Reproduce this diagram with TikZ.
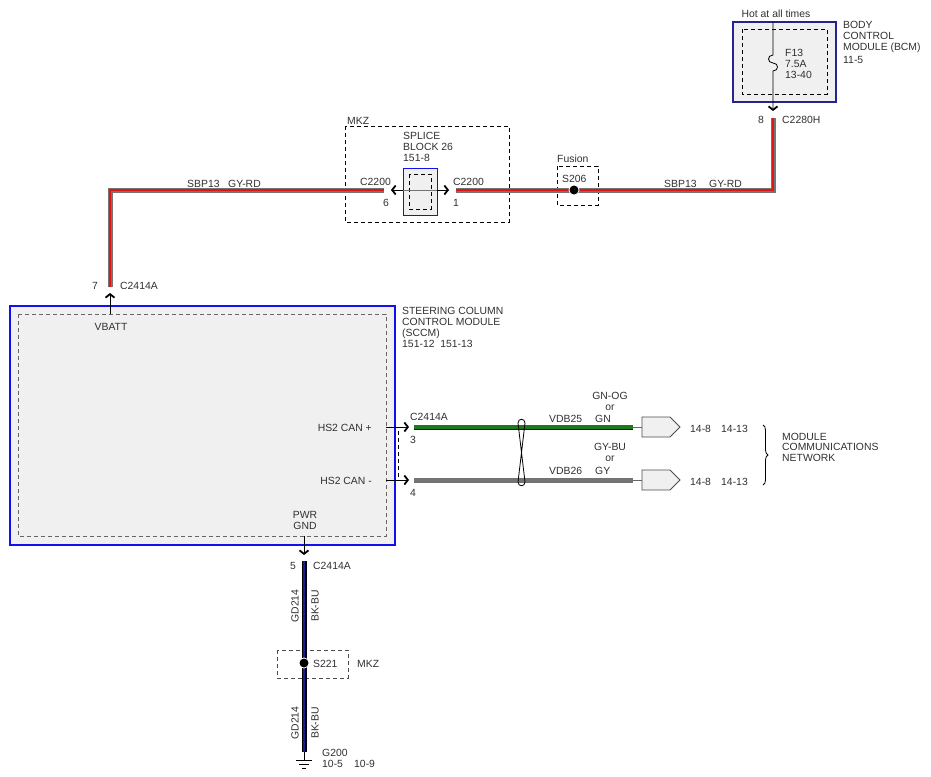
\documentclass[tikz,border=0pt]{standalone}
\usepackage{fontspec}
\setmainfont{Liberation Sans}
\usetikzlibrary{arrows.meta,decorations.pathreplacing}

\definecolor{modfill}{HTML}{F0F0F0}
\definecolor{modblue}{HTML}{1010F0}
\definecolor{bcmblue}{HTML}{24248C}
\definecolor{wgray}{HTML}{747474}
\definecolor{wred}{HTML}{E41414}
\definecolor{wgreen}{HTML}{1C7A1C}
\definecolor{wnavy}{HTML}{1C1C96}
\definecolor{txt}{HTML}{303030}

\tikzset{
  lbl/.style={inner sep=0pt, text=txt, font=\fontsize{10.4}{11}\selectfont, align=left},
  thinwire/.style={line width=0.8pt, black},
  pinbarb/.style={-{Straight Barb[length=3.5pt,width=9pt,line width=1.8pt]}},
  dashbox/.style={line width=0.9pt, dash pattern=on 4pt off 3pt},
  module/.style={fill=modfill, draw=modblue, line width=1.5pt},
}
\newcommand{\wire}[3]{\draw[line width=5pt,#1] #3; \draw[line width=1.1pt,#2] #3;}

\begin{document}
\begin{tikzpicture}[x=1pt,y=-1pt]
 \useasboundingbox (0,0) rectangle (931,776);

 % modules
 \draw[fill=modfill, draw=bcmblue, line width=1.2pt] (733,22) rectangle (836,102);
 \draw[dashbox] (742,29) rectangle (827,94);
 \draw[module] (10,306) rectangle (395,545);
 \draw[dashbox, black!60, line width=0.7pt] (18,314) rectangle (386,536);
 \draw[dashbox] (345,126) rectangle (509,222);
 \draw[fill=modfill, draw=modblue, line width=1pt] (403,168) rectangle (437,215);
 \draw[dashbox] (409,174) rectangle (431,209);
 \draw[dashbox] (557,166) rectangle (598,205);
 \draw[dashbox, black!70] (277,650) rectangle (348,678);

 % pins and wire ends
 \coordinate (bcmtop) at (773,22);
 \coordinate (bcmpin) at (773,111);
 \coordinate (bcmw) at (773,118);
 \coordinate (sbpr) at (773,190);
 \coordinate (sbpl) at (110,190);
 \coordinate (vbw) at (110,287);
 \coordinate (vbpin) at (110,293);
 \coordinate (vbin) at (110,314);
 \coordinate (splw) at (384,190);
 \coordinate (splpl) at (391,190);
 \coordinate (splpr) at (449,190);
 \coordinate (sprw) at (456,190);
 \coordinate (s206) at (574,190);
 \coordinate (canpin) at (386,427);
 \coordinate (canptip) at (409,427);
 \coordinate (canpw) at (414,427);
 \coordinate (canpe) at (633,427);
 \coordinate (canmin) at (386,480);
 \coordinate (canmtip) at (409,480);
 \coordinate (canmw) at (414,480);
 \coordinate (canme) at (633,480);
 \coordinate (gndin) at (304,536);
 \coordinate (gndpin) at (304,555);
 \coordinate (gndw) at (304,561);
 \coordinate (s221) at (304,663);
 \coordinate (g200) at (304,752);

 % wires
 \wire{wgray}{wred}{(vbw) -- (sbpl) -- (splw)}
 \wire{wgray}{wred}{(sprw) -- (sbpr) -- (bcmw)}
 \wire{black!70!wgreen}{wgreen, line width=3.6pt}{(canpw) -- (canpe)}
 \wire{black!55}{wgray, line width=3.6pt}{(canmw) -- (canme)}
 \wire{black}{wnavy, line width=2.2pt}{(gndw) -- (g200)}

 % connectors
 \draw[thinwire, pinbarb] (bcmtop) -- (773,55) .. controls (767,55) and (767,63) .. (773,63)
   .. controls (779,63) and (779,71) .. (773,71) -- (bcmpin);
 \draw[thinwire, pinbarb] (vbin) -- (vbpin);
 \draw[wgray, line width=1pt] (splpl) -- (splpr);
 \draw[thinwire, pinbarb] (403,190) -- (splpl);
 \draw[thinwire, pinbarb] (437,190) -- (splpr);
 \draw[thinwire, pinbarb] (canpin) -- (canptip);
 \draw[thinwire, pinbarb] (canmin) -- (canmtip);
 \draw[dashbox] (398,431) -- (398,477);
 \draw[thinwire, pinbarb] (gndin) -- (gndpin);

 % splices
 \fill[white] (s206) circle (5.5pt);
 \fill (s206) circle (4.5pt);
 \fill[white] (s221) circle (5.5pt);
 \fill (s221) circle (4.5pt);

 % twisted pair
 \draw[thinwire] (518,423) .. controls (518,418) and (525,418) .. (525,423) -- (518,482)
   .. controls (518,487) and (525,487) .. (525,482) -- cycle;

 % inline connectors to network
 \foreach \y/\w in {427/canpe, 480/canme} {
   \draw[black!60, line width=0.8pt] (\w) -- (642,\y);
   \draw[fill=modfill, draw=black!70, line width=0.8pt] (642,\y-10) -- (670,\y-10) -- (680,\y) -- (670,\y+10) -- (642,\y+10) -- cycle;
   \node[lbl, anchor=base west] at (690,\y+5) {14-8};
   \node[lbl, anchor=base west] at (721,\y+5) {14-13};
 }
 \draw[thinwire, decorate, decoration={brace, amplitude=5pt}] (763,425) -- (763,485);

 % ground
 \draw[thinwire] (g200) -- (304,760);
 \draw[thinwire] (296,760) -- (312,760);
 \draw[thinwire] (299,764) -- (309,764);
 \draw[thinwire] (302,768) -- (306,768);

 % labels
 \node[lbl, anchor=base] (hot) at (776,17.5) {Hot at all times};
 \node[lbl, anchor=north west] (bcmname) at (843,21) {BODY\\CONTROL\\MODULE (BCM)\\[2pt]11-5};
 \node[lbl, anchor=north west] (fuse) at (785,49) {F13\\7.5A\\13-40};
 \node[lbl, anchor=base] (pin8) at (761,123) {8};
 \node[lbl, anchor=base west] (c2280) at (782,123) {C2280H};
 \node[lbl, anchor=base west] (mkzsb) at (347,124) {MKZ};
 \node[lbl, anchor=north west] (sb26) at (403,132) {SPLICE\\BLOCK 26\\151-8};
 \node[lbl, anchor=base west] (c2200l) at (360,185) {C2200};
 \node[lbl, anchor=base] (pin6) at (386,206) {6};
 \node[lbl, anchor=base west] (c2200r) at (453,185) {C2200};
 \node[lbl, anchor=base] (pin1) at (456,206) {1};
 \node[lbl, anchor=base west] (fusion) at (557,162.5) {Fusion};
 \node[lbl, anchor=base west] (s206lbl) at (562,182.5) {S206};
 \node[lbl, anchor=base west] (sbpl1) at (187,187) {SBP13};
 \node[lbl, anchor=base west] (sbpl2) at (228,187) {GY-RD};
 \node[lbl, anchor=base west] (sbpr1) at (664,187) {SBP13};
 \node[lbl, anchor=base west] (sbpr2) at (709,187) {GY-RD};
 \node[lbl, anchor=base] (pin7) at (95,289) {7};
 \node[lbl, anchor=base west] (c2414t) at (120,289) {C2414A};
 \node[lbl, anchor=base] (vbatt) at (111,330) {VBATT};
 \node[lbl, anchor=north west] (sccm) at (402,307) {STEERING COLUMN\\CONTROL MODULE\\(SCCM)\\151-12\ \ 151-13};
 \node[lbl, anchor=base east] (canp) at (372,431) {HS2 CAN +};
 \node[lbl, anchor=base east] (canm) at (372,484) {HS2 CAN -};
 \node[lbl, anchor=base west] (c2414r) at (410,420) {C2414A};
 \node[lbl, anchor=base west] (pin3) at (410,443) {3};
 \node[lbl, anchor=base west] (pin4) at (410,496) {4};
 \node[lbl, anchor=north, align=center] (gnog) at (610,392) {GN-OG\\or};
 \node[lbl, anchor=base west] (vdb25) at (549,422) {VDB25};
 \node[lbl, anchor=base west] (gn) at (595,422) {GN};
 \node[lbl, anchor=north, align=center] (gybu) at (610,443) {GY-BU\\or};
 \node[lbl, anchor=base west] (vdb26) at (549,474) {VDB26};
 \node[lbl, anchor=base west] (gy) at (595,474) {GY};
 \node[lbl, anchor=north west, font=\fontsize{10.4}{10.5}\selectfont] (mcn) at (782,433) {MODULE\\COMMUNICATIONS\\NETWORK};
 \node[lbl, anchor=north, align=center] (pwrgnd) at (305,511) {PWR\\GND};
 \node[lbl, anchor=base] (pin5) at (293,569) {5};
 \node[lbl, anchor=base west] (c2414b) at (313,569) {C2414A};
 \node[lbl, anchor=center, rotate=90] (gd1) at (295,606) {GD214};
 \node[lbl, anchor=center, rotate=90] (bkbu1) at (315,606) {BK-BU};
 \node[lbl, anchor=base west] (s221lbl) at (313,667) {S221};
 \node[lbl, anchor=base west] (mkzs) at (357,667) {MKZ};
 \node[lbl, anchor=center, rotate=90] (gd2) at (295,723) {GD214};
 \node[lbl, anchor=center, rotate=90] (bkbu2) at (315,723) {BK-BU};
 \node[lbl, anchor=base west] (g200lbl) at (322,756) {G200};
 \node[lbl, anchor=base west] (ref105) at (322,767) {10-5};
 \node[lbl, anchor=base west] (ref109) at (354,767) {10-9};
\end{tikzpicture}
\end{document}
